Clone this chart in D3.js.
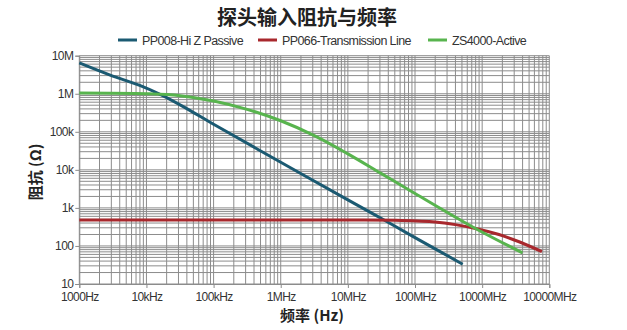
<!DOCTYPE html>
<html><head><meta charset="utf-8">
<script src="https://cdn.jsdelivr.net/npm/d3@7"></script>
<style>
body{margin:0;background:#fff;}
svg{display:block;font-family:"Liberation Sans",Arial,sans-serif;}
</style></head>
<body><svg id="c" width="627" height="330"></svg>
<script>
// Data (log10 frequency Hz, log10 impedance Ohm)
const seriesNames = ["PP008-Hi Z Passive", "PP066-Transmission Line", "ZS4000-Active"];
const seriesColors = ["#1b5a72", "#a8282d", "#58b44e"];
const pp008 = [[3,6.81],[3.46,6.49],[3.9,6.22],[4.22,5.97],[4.6,5.61],[5,5.20],[6,4.20],[7,3.21],[7.52,2.70],[8,2.22],[8.71,1.52]];
const pp066 = [[3,2.68],[5,2.68],[7,2.68],[7.8,2.67],[8.3,2.63],[8.6,2.56],[8.95,2.44],[9.25,2.30],[9.55,2.11],[9.89,1.85]];
const zs4000 = [[3,6.02],[4,6.0],[4.5,5.95],[5.0,5.81],[5.5,5.59],[6.0,5.29],[6.5,4.90],[7.0,4.42],[7.5,3.90],[8.0,3.38],[8.9,2.46],[9.6,1.82]];
const xTickValues = [1e3,1e4,1e5,1e6,1e7,1e8,1e9,1e10];
const xTickLabels = ["1000Hz","10kHz","100kHz","1MHz","10MHz","100MHz","1000MHz","10000MHz"];
const yTickValues = [10,100,1e3,1e4,1e5,1e6,1e7];
const yTickLabels = ["10","100","1k","10k","100k","1M","10M"];
const title = "探头输入阻抗与频率";
const xTitle = "频率 (Hz)";
const yTitle = "阻抗 (Ω)";

const svg = d3.select("#c");
const x = d3.scaleLog().domain([1e3,1e10]).range([79.3,549.3]);
const y = d3.scaleLog().domain([10,1e7]).range([284,55.7]);

// grid
const g = svg.append("g");
const minorX = [], minorY = [];
for (let e=3;e<10;e++) for (let m=1;m<10;m++) minorX.push(m*Math.pow(10,e));
minorX.push(1e10);
for (let e=1;e<7;e++) for (let m=1;m<10;m++) minorY.push(m*Math.pow(10,e));
minorY.push(1e7);
g.selectAll(".vx").data(minorX).join("line")
  .attr("x1",d=>x(d)).attr("x2",d=>x(d)).attr("y1",y(1e7)).attr("y2",y(10))
  .attr("stroke","#8c8c8c").attr("stroke-width",1);
g.selectAll(".hy").data(minorY).join("line")
  .attr("y1",d=>y(d)).attr("y2",d=>y(d)).attr("x1",x(1e3)).attr("x2",x(1e10))
  .attr("stroke","#8c8c8c").attr("stroke-width",1);

// axes
const xAxis = d3.axisBottom(x).tickValues(xTickValues).tickSize(4).tickPadding(4)
  .tickFormat((d,i)=>xTickLabels[i]);
const yAxis = d3.axisLeft(y).tickValues(yTickValues).tickSize(4).tickPadding(2)
  .tickFormat((d,i)=>yTickLabels[i]);
const ax = svg.append("g").attr("transform",`translate(0,${y(10)})`).call(xAxis);
const ay = svg.append("g").attr("transform",`translate(${x(1e3)},0)`).call(yAxis);
[ax,ay].forEach(a=>{
  a.select(".domain").attr("stroke","#8c8c8c");
  a.selectAll(".tick line").attr("stroke","#8c8c8c");
  a.selectAll("text").attr("fill","#333").style("font-size","12px").style("letter-spacing","-0.6px")
   .style("font-family","Liberation Sans, Arial, sans-serif");
});
ay.selectAll("text").attr("dy","0.28em");

// lines
const line = d3.line().x(d=>x(Math.pow(10,d[0]))).y(d=>y(Math.pow(10,d[1]))).curve(d3.curveCatmullRom.alpha(0.5));
[pp008,pp066,zs4000].forEach((s,i)=>{
  svg.append("path").attr("d",line(s)).attr("fill","none")
    .attr("stroke",seriesColors[i]).attr("stroke-width",3).attr("stroke-linecap","butt");
});

// title
svg.append("text").attr("x",307).attr("y",25).attr("text-anchor","middle")
  .style("font-family","Noto Sans CJK SC").style("font-weight","bold").style("font-size","20px")
  .attr("fill","#222").text(title);

// legend
const legX = [118,258,428];
seriesNames.forEach((n,i)=>{
  svg.append("line").attr("x1",legX[i]).attr("x2",legX[i]+19).attr("y1",40).attr("y2",40)
    .attr("stroke",seriesColors[i]).attr("stroke-width",3);
  svg.append("text").attr("x",legX[i]+24).attr("y",44.5).attr("fill","#333")
    .style("font-size","12.5px").style("letter-spacing","-0.6px").text(n);
});

// axis titles
svg.append("text").attr("x",312).attr("y",321).attr("text-anchor","middle")
  .style("font-family","Noto Sans CJK SC").style("font-weight","bold").style("font-size","15px")
  .attr("fill","#222").text(xTitle);
svg.append("text").attr("transform","translate(41,172) rotate(-90)").attr("text-anchor","middle")
  .style("font-family","Noto Sans CJK SC").style("font-weight","bold").style("font-size","15px")
  .attr("fill","#222").text(yTitle);
</script></body></html>
